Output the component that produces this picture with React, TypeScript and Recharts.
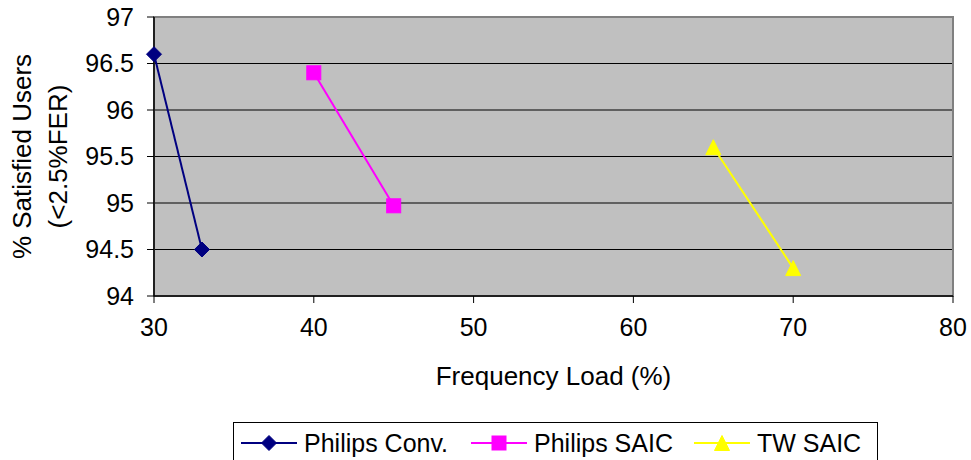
import React from 'react';
import { LineChart, Line, XAxis, YAxis, CartesianGrid, Legend, ReferenceArea, Label } from 'recharts';

const xTicks = [30, 40, 50, 60, 70, 80];
const yTicks = [94, 94.5, 95, 95.5, 96, 96.5, 97];

const philipsConvX = [30, 33];
const philipsConvY = [96.6, 94.5];
const philipsSaicX = [40, 45];
const philipsSaicY = [96.4, 94.97];
const twSaicX = [65, 70];
const twSaicY = [95.6, 94.3];

const seriesNames = ['Philips Conv.', 'Philips SAIC', 'TW SAIC'];
const seriesColors = ['#000080', '#FF00FF', '#FFFF00'];
const seriesShapes = ['diamond', 'square', 'triangle'];

const toPoints = (xs: number[], ys: number[]) => xs.map((x, i) => ({ x, y: ys[i] }));

const series = [
  toPoints(philipsConvX, philipsConvY),
  toPoints(philipsSaicX, philipsSaicY),
  toPoints(twSaicX, twSaicY),
];

const FONT = '"Liberation Sans", Arial, sans-serif';
const legendItemWidths = [230, 223, undefined];

function Marker({ shape, color, cx, cy }: { shape: string; color: string; cx: number; cy: number }) {
  if (shape === 'diamond') {
    const r = 7.5;
    return <polygon points={`${cx},${cy - r} ${cx + r},${cy} ${cx},${cy + r} ${cx - r},${cy}`} fill={color} stroke={color} />;
  }
  if (shape === 'square') {
    const r = 7;
    return <rect x={cx - r} y={cy - r} width={2 * r} height={2 * r} fill={color} stroke={color} />;
  }
  const r = 7.5;
  return <polygon points={`${cx},${cy - r} ${cx + r},${cy + r} ${cx - r},${cy + r}`} fill={color} stroke={color} />;
}

const makeDot = (shape: string, color: string) => (props: any) => {
  const { cx, cy, index } = props;
  if (cx == null || cy == null) return <g key={index} />;
  return <Marker key={index} shape={shape} color={color} cx={cx} cy={cy} />;
};

function LegendContent() {
  return (
    <div
      style={{
        boxSizing: 'border-box',
        width: 645,
        height: 42,
        border: '1px solid #000',
        background: '#fff',
        display: 'flex',
        alignItems: 'center',
        paddingLeft: 7,
        fontFamily: FONT,
        fontSize: 25,
        color: '#000',
        whiteSpace: 'nowrap',
      }}
    >
      {seriesNames.map((name, i) => (
        <div
          key={name}
          style={{ display: 'flex', alignItems: 'center', width: legendItemWidths[i], flex: 'none' }}
        >
          <svg width={56} height={20} style={{ display: 'block' }}>
            <line x1={0} y1={10} x2={56} y2={10} stroke={seriesColors[i]} strokeWidth={2} />
            <Marker shape={seriesShapes[i]} color={seriesColors[i]} cx={28} cy={10} />
          </svg>
          <span style={{ marginLeft: 7 }}>{name}</span>
        </div>
      ))}
    </div>
  );
}

export default function App() {
  return (
    <div style={{ position: 'absolute', left: 0, top: 0, width: 971, height: 460, background: '#fff' }}>
      <LineChart width={971} height={460} margin={{ top: 17, right: 18, left: 0, bottom: 0 }}>
        <CartesianGrid
          vertical={false}
          horizontalValues={[94.5, 95, 95.5, 96, 96.5]}
          stroke="#000"
          strokeWidth={1}
          fill="#C0C0C0"
          fillOpacity={1}
        />
        <ReferenceArea x1={30} x2={80} y1={94} y2={97} fill="none" stroke="#808080" strokeWidth={2} />
        <XAxis
          dataKey="x"
          type="number"
          domain={[30, 80]}
          ticks={xTicks}
          allowDuplicatedCategory={false}
          height={124}
          tickSize={7}
          tickMargin={15}
          stroke="#000"
          tick={{ fill: '#000', fontSize: 25, fontFamily: FONT }}
          tickLine={{ stroke: '#000' }}
          axisLine={{ stroke: '#000', strokeWidth: 1.5 }}
        >
          <Label
            content={(props: any) => {
              const vb = props.viewBox || {};
              return (
                <text
                  x={vb.x + vb.width / 2}
                  y={385}
                  textAnchor="middle"
                  fontSize={26}
                  fontFamily={FONT}
                  fill="#000"
                >
                  Frequency Load (%)
                </text>
              );
            }}
          />
        </XAxis>
        <YAxis
          dataKey="y"
          type="number"
          domain={[94, 97]}
          ticks={yTicks}
          width={154}
          tickSize={7}
          tickMargin={13}
          stroke="#000"
          tick={{ fill: '#000', fontSize: 25, fontFamily: FONT }}
          tickLine={{ stroke: '#000' }}
          axisLine={{ stroke: '#000', strokeWidth: 1.5 }}
        >
          <Label
            content={(props: any) => {
              const vb = props.viewBox || {};
              const cy = vb.y + vb.height / 2;
              return (
                <g>
                  <text
                    x={31}
                    y={cy}
                    transform={`rotate(-90, 31, ${cy})`}
                    textAnchor="middle"
                    fontSize={26}
                    fontFamily={FONT}
                    fill="#000"
                  >
                    % Satisfied Users
                  </text>
                  <text
                    x={67}
                    y={cy}
                    transform={`rotate(-90, 67, ${cy})`}
                    textAnchor="middle"
                    fontSize={26}
                    fontFamily={FONT}
                    fill="#000"
                  >
                    (&lt;2.5%FER)
                  </text>
                </g>
              );
            }}
          />
        </YAxis>
        {series.map((pts, i) => (
          <Line
            key={seriesNames[i]}
            data={pts}
            dataKey="y"
            name={seriesNames[i]}
            stroke={seriesColors[i]}
            strokeWidth={2}
            isAnimationActive={false}
            dot={makeDot(seriesShapes[i], seriesColors[i])}
            activeDot={false}
            legendType="none"
          />
        ))}
        <Legend
          verticalAlign="bottom"
          content={() => <LegendContent />}
          wrapperStyle={{ left: 233, width: 645, height: 40, bottom: -2 }}
        />
      </LineChart>
    </div>
  );
}
